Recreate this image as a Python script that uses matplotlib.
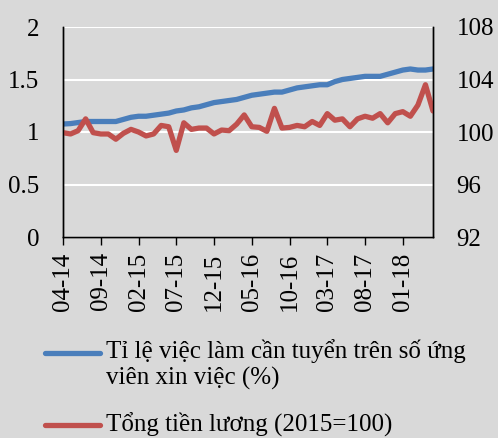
import matplotlib
matplotlib.use("Agg")
import matplotlib.pyplot as plt
from matplotlib.lines import Line2D
from matplotlib.ticker import FuncFormatter
import pandas as pd

# monthly categories 04-14 .. 05-18
months = pd.period_range("2014-04", periods=50, freq="M").strftime("%m-%y").tolist()

# job openings to applicants ratio (left axis)
ratio = [1.076, 1.08, 1.09, 1.10, 1.10, 1.10, 1.10, 1.10, 1.12, 1.14,
         1.15, 1.15, 1.16, 1.17, 1.18, 1.20, 1.21, 1.23, 1.24, 1.26,
         1.28, 1.29, 1.30, 1.31, 1.33, 1.35, 1.36, 1.37, 1.38, 1.38,
         1.40, 1.42, 1.43, 1.44, 1.45, 1.45, 1.48, 1.50, 1.51, 1.52,
         1.53, 1.53, 1.53, 1.55, 1.57, 1.59, 1.60, 1.59, 1.59, 1.60]

# total wages, 2015=100 (right axis)
wages = [99.95, 99.85, 100.1, 101.0, 99.95, 99.85, 99.85, 99.45, 99.9, 100.2,
         100.0, 99.7, 99.85, 100.5, 100.4, 98.6, 100.7, 100.2, 100.3, 100.3,
         99.85, 100.15, 100.1, 100.6, 101.3, 100.4, 100.35, 100.05, 101.8, 100.3,
         100.35, 100.5, 100.4, 100.8, 100.5, 101.4, 100.9, 101.0, 100.4, 101.0,
         101.2, 101.05, 101.4, 100.7, 101.4, 101.55, 101.2, 102.05, 103.6, 101.6]

label_ratio = "Tỉ lệ việc làm cần tuyển trên số ứng\nviên xin việc (%)"
label_wages = "Tổng tiền lương (2015=100)"

bg = "#d9d9d9"
blue = "#4a7ebb"
red = "#c0504d"

plt.rcParams["font.family"] = ["Liberation Serif", "DejaVu Serif"]
plt.rcParams["font.size"] = 18

fig = plt.figure(figsize=(4.98, 4.38), dpi=100, facecolor=bg)
ax = fig.add_axes([63 / 498, 1 - 237 / 438, 370 / 498, 210 / 438])
ax.set_facecolor(bg)

x = list(range(len(months)))
ax.plot(x, ratio, color=blue, lw=3.8, solid_capstyle="round")
ax.set_ylim(0, 2)
ax.set_yticks([0, 0.5, 1, 1.5, 2])
ax.yaxis.set_major_formatter(FuncFormatter(lambda v, p: f"{v:g}"))
ax.grid(axis="y", color="white", lw=1.5)
ax.set_axisbelow(True)
ax.set_xlim(0, len(months) - 1)
ax.set_xticks(x[::5])
ax.set_xticklabels(months[::5], rotation=90)
ax.tick_params(axis="x", length=6, width=1, pad=5)
ax.tick_params(axis="y", length=0, pad=17)

ax2 = ax.twinx()
ax2.plot(x, wages, color=red, lw=3.8, solid_capstyle="round")
ax2.set_ylim(92, 108)
ax2.set_yticks([92, 96, 100, 104, 108])
ax2.tick_params(axis="y", length=0, pad=17)

for a in (ax, ax2):
    a.spines["top"].set_visible(False)
    for s in ("left", "right", "bottom"):
        a.spines[s].set_color("black")
        a.spines[s].set_linewidth(1)

# legend drawn by hand so the handle sits on the first text line
fig.add_artist(Line2D([45 / 498, 100 / 498], [1 - 353 / 438] * 2,
                      color=blue, lw=3.8, solid_capstyle="round"))
fig.text(106 / 498, 1 - 339 / 438, label_ratio, va="top", ha="left",
         linespacing=1.25)
fig.add_artist(Line2D([45 / 498, 100 / 498], [1 - 425 / 438] * 2,
                      color=red, lw=3.8, solid_capstyle="round"))
fig.text(106 / 498, 1 - 425 / 438, label_wages, va="center", ha="left")

fig.savefig("out.png", dpi=100, facecolor=bg)
